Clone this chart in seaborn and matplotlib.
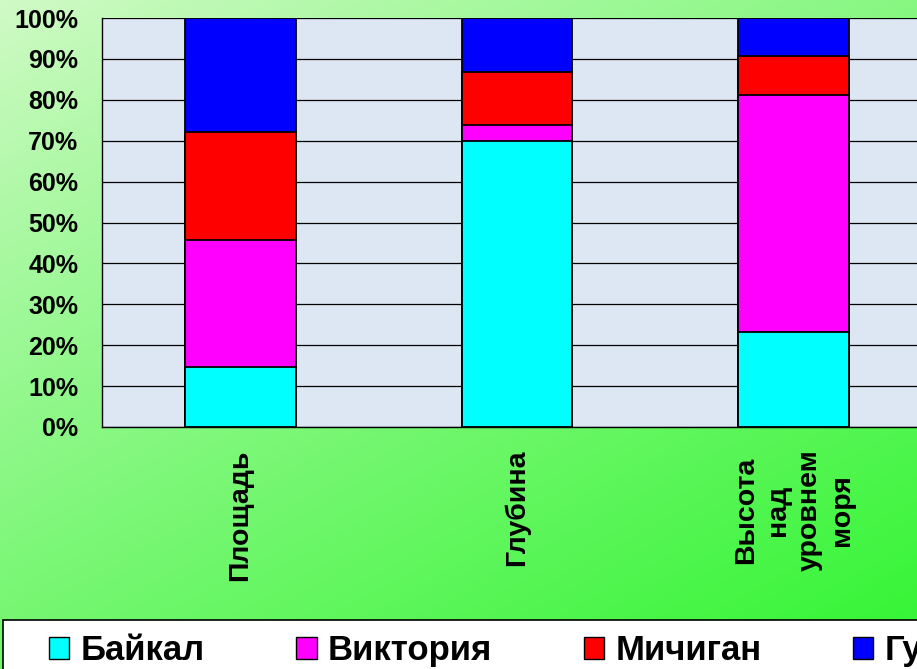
import numpy as np
import pandas as pd
import matplotlib
matplotlib.use('Agg')
import matplotlib.pyplot as plt
from matplotlib.patches import Patch, Rectangle
import seaborn as sns

# --- данные (доли в %) ---
categories = ['Площадь', 'Глубина', 'Высота\nнад\nуровнем\nморя']
lakes = ['Байкал', 'Виктория', 'Мичиган', 'Гурон']
baikal = [14.7, 70.0, 23.3]
victoria = [31.0, 3.9, 57.9]
michigan = [26.5, 13.0, 9.4]
huron = [27.8, 13.1, 9.4]
colors = ['#00ffff', '#ff00ff', '#ff0000', '#0000ff']
ytick_vals = list(range(0, 101, 10))

sns.set_style('white')
plt.rcParams['font.family'] = ['Liberation Sans', 'DejaVu Sans']
plt.rcParams['font.weight'] = 'bold'
plt.rcParams['text.color'] = 'black'
plt.rcParams['xtick.color'] = 'black'
plt.rcParams['ytick.color'] = 'black'

# длинная таблица + накопленные суммы для стека
rows = []
for lake, vals in zip(lakes, [baikal, victoria, michigan, huron]):
    for cat, v in zip(categories, vals):
        rows.append((cat, lake, v))
df = pd.DataFrame(rows, columns=['cat', 'lake', 'val'])
df['cum'] = df.groupby('cat')['val'].cumsum()

W, H = 917, 669
fig = plt.figure(figsize=(W / 100, H / 100), dpi=100)

# фон - зелёный градиент
bg = fig.add_axes([0, 0, 1, 1], zorder=0)
yy, xx = np.mgrid[0:1:200j, 0:1:200j]
t = np.clip(0.45 * xx + 0.6 * yy, 0, 1) ** 0.9
c0 = np.array([0.82, 0.98, 0.78])
c1 = np.array([0.22, 0.96, 0.22])
grad = c0[None, None, :] * (1 - t[..., None]) + c1[None, None, :] * t[..., None]
bg.imshow(grad, aspect='auto', extent=[0, 1, 0, 1], origin='upper')
bg.axis('off')

ax = fig.add_axes([102 / W, 1 - 427 / H, 830 / W, 409 / H], zorder=1)
ax.set_facecolor('#dde7f3')

# рисуем сверху вниз, чтобы нижние сегменты перекрывали верхние
for i in reversed(range(len(lakes))):
    sub = df[df['lake'] == lakes[i]]
    sns.barplot(data=sub, x='cat', y='cum', order=categories, color=colors[i],
                width=0.4, edgecolor='black', linewidth=1.3, errorbar=None,
                saturation=1, ax=ax)

ax.set_xlim(-0.5, 2.5)
ax.set_ylim(0, 100)
ax.set_xlabel('')
ax.set_ylabel('')
ax.set_yticks(ytick_vals)
ax.set_yticklabels([f'{v}%' for v in ytick_vals], fontsize=18, fontweight='bold')
ax.yaxis.grid(True, color='black', lw=0.9)
ax.set_axisbelow(True)

ax.set_xticks([-0.5, 0.5, 1.5, 2.5])
ax.set_xticklabels([])
ax.set_xticks([0, 1, 2], minor=True)
ax.set_xticklabels(categories, minor=True, rotation=90, fontsize=20.5,
                   fontweight='bold', linespacing=1.3, multialignment='center')
ax.tick_params(axis='x', which='major', length=6, width=1, color='black', direction='out')
ax.tick_params(axis='x', which='minor', length=0, pad=16)
ax.tick_params(axis='y', length=6, width=1, color='black', direction='out', pad=11)

for s in ['top', 'right']:
    ax.spines[s].set_visible(False)
for s in ['left', 'bottom']:
    ax.spines[s].set_color('black')
    ax.spines[s].set_linewidth(1)

# рамка легенды (уходит за край)
frame = Rectangle((3 / W, -0.1), 1.2, 0.1 + 1 - 620 / H, transform=fig.transFigure,
                  facecolor='white', edgecolor='black', lw=1.2, zorder=2)
fig.add_artist(frame)

handles = [Patch(facecolor=c, edgecolor='black', lw=1) for c in colors]
fig.legend(handles, lakes, loc='upper left', bbox_to_anchor=(49 / W, 1 - 634 / H),
           ncol=4, frameon=False, borderpad=0, borderaxespad=0,
           handlelength=0.58, handleheight=0.58, handletextpad=0.32,
           columnspacing=2.65, prop=dict(size=25, weight='bold'))

fig.savefig('out.png', dpi=100)
